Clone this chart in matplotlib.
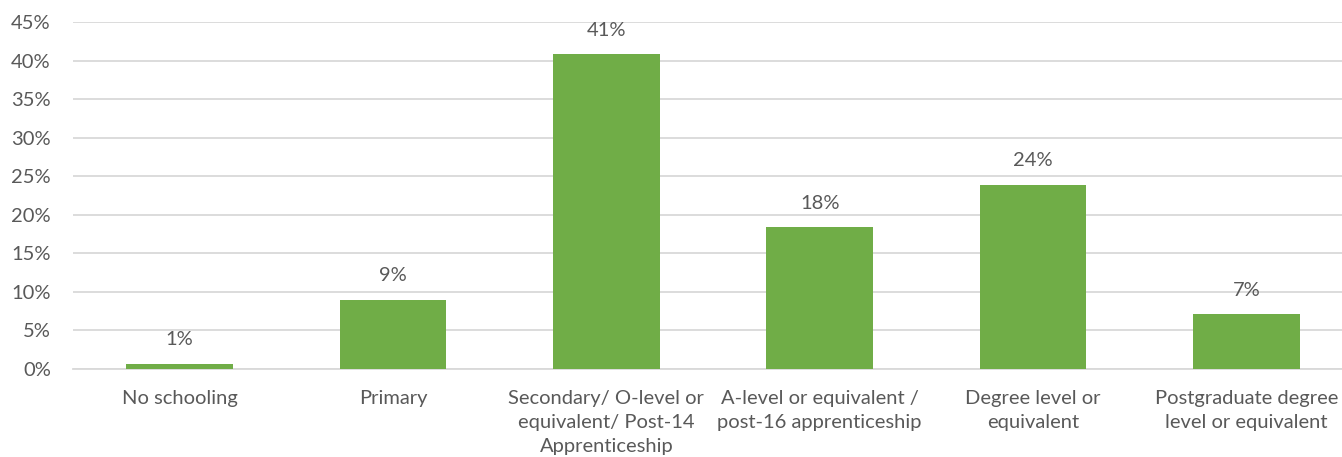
import matplotlib.pyplot as plt
from matplotlib.ticker import FuncFormatter, MultipleLocator

# Highest qualification shares (percent)
categories = [
    "No schooling",
    "Primary",
    "Secondary/ O-level or\nequivalent/ Post-14\nApprenticeship",
    "A-level or equivalent /\npost-16 apprenticeship",
    "Degree level or\nequivalent",
    "Postgraduate degree\nlevel or equivalent",
]
shares = [0.7, 9.0, 40.8, 18.4, 23.9, 7.1]

bar_color = "#70AD47"
text_color = "#595959"
grid_color = "#D9D9D9"

plt.rcParams["font.family"] = ["Lato", "DejaVu Sans"]

W, H = 1342, 457
fig = plt.figure(figsize=(W / 100, H / 100), dpi=100)
ax = fig.add_axes([73 / W, 88 / H, 1280 / W, 347 / H])

x = range(len(categories))
ax.bar(x, shares, width=0.5, color=bar_color, zorder=3)

# value labels above each bar
for xi, v in zip(x, shares):
    ax.annotate(f"{v:.0f}%", (xi, v), xytext=(0, 11), textcoords="offset points",
                ha="center", va="bottom", fontsize=14.5, color=text_color)

ax.set_xlim(-0.5, len(categories) - 0.5)
ax.set_ylim(0, 45)
ax.yaxis.set_major_locator(MultipleLocator(5))
ax.yaxis.set_major_formatter(FuncFormatter(lambda v, p: f"{v:.0f}%"))
ax.grid(axis="y", color=grid_color, linewidth=1.3, zorder=0)
ax.set_xticks(list(x))
ax.set_xticklabels(categories, fontsize=14.5, color=text_color, linespacing=1.5)
ax.tick_params(axis="y", labelsize=14.5, labelcolor=text_color, length=0, pad=16)
ax.tick_params(axis="x", length=0, pad=15)
for s in ["top", "right", "left"]:
    ax.spines[s].set_visible(False)
ax.spines["bottom"].set_color(grid_color)
ax.spines["bottom"].set_linewidth(1.3)

fig.savefig("out.png", dpi=100, facecolor="white")
